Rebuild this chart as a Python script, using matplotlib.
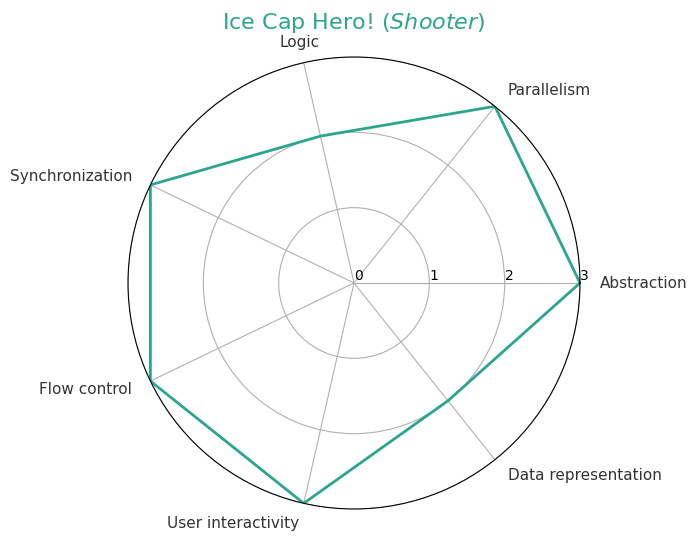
import numpy as np
import matplotlib
matplotlib.use("Agg")
import matplotlib.pyplot as plt

categories = ["Abstraction", "Parallelism", "Logic", "Synchronization",
              "Flow control", "User interactivity", "Data representation"]
values = [3, 3, 2, 3, 3, 3, 2]
title = "Ice Cap Hero! ($Shooter$)"
color = "#2ca58d"

# horizontal alignment of each category label
aligns = ["left", "left", "center", "right", "right", "right", "left"]

n = len(categories)
angles = np.linspace(0, 2 * np.pi, n, endpoint=False).tolist()
vals = values + values[:1]
angs = angles + angles[:1]

fig = plt.figure(figsize=(6.97, 5.41), dpi=100)
ax = fig.add_axes([128 / 697, 32 / 541, 452 / 697, 452 / 541], polar=True)

ax.plot(angs, vals, color=color, linewidth=2)
ax.set_ylim(0, 3)
ax.set_yticks([0, 1, 2, 3])
ax.set_yticklabels(["0", "1", "2", "3"], fontsize=10, color="black")
ax.set_rlabel_position(0)
ax.set_xticks(angles)
ax.set_xticklabels([])
ax.grid(color="#b0b0b0", linewidth=0.8)
ax.spines["polar"].set_color("black")

for ang, lab, ha in zip(angles, categories, aligns):
    ax.text(ang, 3.27, lab, ha=ha, va="center", fontsize=11, color="#333333")

ax.set_title(title, color=color, fontsize=16, pad=20)
fig.savefig("out.png", dpi=100)
